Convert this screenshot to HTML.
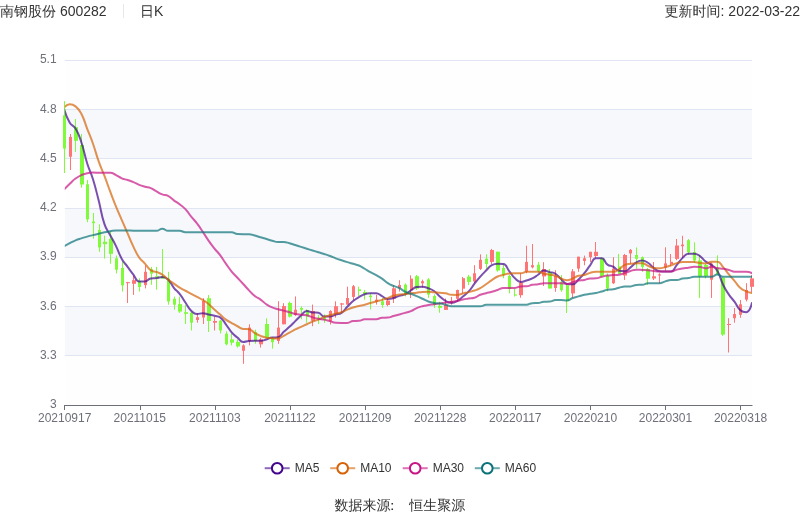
<!DOCTYPE html>
<html lang="zh"><head><meta charset="utf-8"><title>南钢股份 600282 日K</title>
<style>
html,body{margin:0;padding:0;background:#fff;}
body{width:800px;height:517px;overflow:hidden;position:relative;font-family:"Liberation Sans","WenQuanYi Zen Hei","Noto Sans CJK SC",sans-serif;}
svg{position:absolute;left:0;top:0;display:block}
svg text{font-family:"Liberation Sans","WenQuanYi Zen Hei","Noto Sans CJK SC",sans-serif;}
</style></head><body>
<svg width="800" height="517" viewBox="0 0 800 517">
<defs><clipPath id="plot"><rect x="64.8" y="50" width="687.2" height="360"/></clipPath></defs>

<text x="0" y="16.3" font-size="14" fill="#333">南钢股份 600282</text>
<rect x="123" y="4" width="1" height="14" fill="#e8e8e8"/>
<text x="140" y="16.3" font-size="14" fill="#333">日K</text>
<text x="800" y="16.3" font-size="14" fill="#333" text-anchor="end">更新时间: 2022-03-22</text>
<rect x="65" y="60" width="687" height="49" fill="rgba(250,250,250,0.2)"/>
<rect x="65" y="109" width="687" height="49" fill="rgba(210,219,238,0.2)"/>
<rect x="65" y="158" width="687" height="50" fill="rgba(250,250,250,0.2)"/>
<rect x="65" y="208" width="687" height="49" fill="rgba(210,219,238,0.2)"/>
<rect x="65" y="257" width="687" height="49" fill="rgba(250,250,250,0.2)"/>
<rect x="65" y="306" width="687" height="49" fill="rgba(210,219,238,0.2)"/>
<rect x="65" y="355" width="687" height="50" fill="rgba(250,250,250,0.2)"/>
<line x1="64.8" x2="752" y1="60.5" y2="60.5" stroke="#E0E6F1" stroke-width="1"/>
<text x="56.6" y="63" font-size="12" fill="#6E7079" text-anchor="end">5.1</text>
<line x1="64.8" x2="752" y1="109.5" y2="109.5" stroke="#E0E6F1" stroke-width="1"/>
<text x="56.6" y="113" font-size="12" fill="#6E7079" text-anchor="end">4.8</text>
<line x1="64.8" x2="752" y1="158.5" y2="158.5" stroke="#E0E6F1" stroke-width="1"/>
<text x="56.6" y="162" font-size="12" fill="#6E7079" text-anchor="end">4.5</text>
<line x1="64.8" x2="752" y1="208.5" y2="208.5" stroke="#E0E6F1" stroke-width="1"/>
<text x="56.6" y="211" font-size="12" fill="#6E7079" text-anchor="end">4.2</text>
<line x1="64.8" x2="752" y1="257.5" y2="257.5" stroke="#E0E6F1" stroke-width="1"/>
<text x="56.6" y="260" font-size="12" fill="#6E7079" text-anchor="end">3.9</text>
<line x1="64.8" x2="752" y1="306.5" y2="306.5" stroke="#E0E6F1" stroke-width="1"/>
<text x="56.6" y="310" font-size="12" fill="#6E7079" text-anchor="end">3.6</text>
<line x1="64.8" x2="752" y1="355.5" y2="355.5" stroke="#E0E6F1" stroke-width="1"/>
<text x="56.6" y="359" font-size="12" fill="#6E7079" text-anchor="end">3.3</text>
<text x="56.6" y="408" font-size="12" fill="#6E7079" text-anchor="end">3</text>
<g>
<line x1="64.5" x2="64.5" y1="101.2" y2="173.0" stroke="#80fb3c" stroke-width="1"/>
<rect x="63" y="115.3" width="3" height="33.3" fill="#80fb3c"/>
<line x1="70.5" x2="70.5" y1="134.0" y2="170.0" stroke="#ff7474" stroke-width="1"/>
<rect x="69" y="136.9" width="3" height="19.8" fill="#ff7474"/>
<line x1="75.5" x2="75.5" y1="119.0" y2="151.9" stroke="#80fb3c" stroke-width="1"/>
<rect x="74" y="127.2" width="4" height="13.6" fill="#80fb3c"/>
<line x1="81.5" x2="81.5" y1="134.0" y2="187.7" stroke="#80fb3c" stroke-width="1"/>
<rect x="80" y="145.0" width="4" height="39.5" fill="#80fb3c"/>
<line x1="87.5" x2="87.5" y1="180.0" y2="222.2" stroke="#80fb3c" stroke-width="1"/>
<rect x="86" y="184.2" width="3" height="35.2" fill="#80fb3c"/>
<line x1="93.5" x2="93.5" y1="213.0" y2="238.6" stroke="#80fb3c" stroke-width="1"/>
<rect x="92" y="221.5" width="3" height="1.7" fill="#80fb3c"/>
<line x1="99.5" x2="99.5" y1="224.3" y2="251.8" stroke="#80fb3c" stroke-width="1"/>
<rect x="98" y="230.0" width="3" height="17.4" fill="#80fb3c"/>
<line x1="104.5" x2="104.5" y1="235.7" y2="258.6" stroke="#80fb3c" stroke-width="1"/>
<rect x="103" y="241.7" width="4" height="2.5" fill="#80fb3c"/>
<line x1="110.5" x2="110.5" y1="231.2" y2="263.7" stroke="#80fb3c" stroke-width="1"/>
<rect x="109" y="238.8" width="4" height="15.1" fill="#80fb3c"/>
<line x1="116.5" x2="116.5" y1="255.5" y2="273.4" stroke="#80fb3c" stroke-width="1"/>
<rect x="115" y="258.3" width="3" height="11.4" fill="#80fb3c"/>
<line x1="122.5" x2="122.5" y1="261.6" y2="291.6" stroke="#80fb3c" stroke-width="1"/>
<rect x="121" y="268.0" width="3" height="17.4" fill="#80fb3c"/>
<line x1="127.5" x2="127.5" y1="281.9" y2="303.0" stroke="#ff7474" stroke-width="1"/>
<rect x="126" y="282.2" width="4" height="1.0" fill="#ff7474"/>
<line x1="133.5" x2="133.5" y1="275.7" y2="294.9" stroke="#ff7474" stroke-width="1"/>
<rect x="132" y="280.2" width="4" height="3.6" fill="#ff7474"/>
<line x1="139.5" x2="139.5" y1="278.3" y2="291.6" stroke="#80fb3c" stroke-width="1"/>
<rect x="138" y="281.0" width="3" height="6.0" fill="#80fb3c"/>
<line x1="145.5" x2="145.5" y1="265.3" y2="288.4" stroke="#ff7474" stroke-width="1"/>
<rect x="144" y="271.8" width="3" height="13.3" fill="#ff7474"/>
<line x1="151.5" x2="151.5" y1="266.9" y2="284.8" stroke="#80fb3c" stroke-width="1"/>
<rect x="150" y="269.2" width="3" height="4.5" fill="#80fb3c"/>
<line x1="156.5" x2="156.5" y1="266.9" y2="289.7" stroke="#80fb3c" stroke-width="1"/>
<rect x="155" y="276.2" width="4" height="1.6" fill="#80fb3c"/>
<line x1="162.5" x2="162.5" y1="249.0" y2="278.6" stroke="#80fb3c" stroke-width="1"/>
<rect x="161" y="276.2" width="4" height="2.4" fill="#80fb3c"/>
<line x1="168.5" x2="168.5" y1="271.8" y2="304.7" stroke="#80fb3c" stroke-width="1"/>
<rect x="167" y="278.6" width="3" height="22.9" fill="#80fb3c"/>
<line x1="174.5" x2="174.5" y1="296.6" y2="309.7" stroke="#80fb3c" stroke-width="1"/>
<rect x="173" y="298.8" width="3" height="5.9" fill="#80fb3c"/>
<line x1="179.5" x2="179.5" y1="296.6" y2="312.9" stroke="#80fb3c" stroke-width="1"/>
<rect x="178" y="304.1" width="4" height="7.5" fill="#80fb3c"/>
<line x1="185.5" x2="185.5" y1="304.8" y2="324.0" stroke="#80fb3c" stroke-width="1"/>
<rect x="184" y="312.2" width="4" height="1.6" fill="#80fb3c"/>
<line x1="191.5" x2="191.5" y1="311.8" y2="330.5" stroke="#80fb3c" stroke-width="1"/>
<rect x="190" y="312.8" width="3" height="9.9" fill="#80fb3c"/>
<line x1="197.5" x2="197.5" y1="313.2" y2="322.7" stroke="#ff7474" stroke-width="1"/>
<rect x="196" y="317.2" width="3" height="2.8" fill="#ff7474"/>
<line x1="203.5" x2="203.5" y1="298.2" y2="324.0" stroke="#ff7474" stroke-width="1"/>
<rect x="202" y="301.0" width="3" height="16.5" fill="#ff7474"/>
<line x1="208.5" x2="208.5" y1="295.0" y2="332.0" stroke="#80fb3c" stroke-width="1"/>
<rect x="207" y="298.2" width="4" height="22.8" fill="#80fb3c"/>
<line x1="214.5" x2="214.5" y1="316.7" y2="330.5" stroke="#ff7474" stroke-width="1"/>
<rect x="213" y="321.0" width="4" height="1.7" fill="#ff7474"/>
<line x1="220.5" x2="220.5" y1="320.0" y2="333.4" stroke="#80fb3c" stroke-width="1"/>
<rect x="219" y="320.7" width="3" height="9.8" fill="#80fb3c"/>
<line x1="226.5" x2="226.5" y1="331.3" y2="345.4" stroke="#80fb3c" stroke-width="1"/>
<rect x="225" y="333.7" width="3" height="10.6" fill="#80fb3c"/>
<line x1="231.5" x2="231.5" y1="333.4" y2="345.4" stroke="#80fb3c" stroke-width="1"/>
<rect x="230" y="339.4" width="4" height="3.3" fill="#80fb3c"/>
<line x1="237.5" x2="237.5" y1="339.4" y2="347.6" stroke="#80fb3c" stroke-width="1"/>
<rect x="236" y="341.9" width="4" height="4.5" fill="#80fb3c"/>
<line x1="243.5" x2="243.5" y1="344.3" y2="363.8" stroke="#ff7474" stroke-width="1"/>
<rect x="242" y="345.4" width="3" height="5.4" fill="#ff7474"/>
<line x1="249.5" x2="249.5" y1="324.3" y2="345.4" stroke="#ff7474" stroke-width="1"/>
<rect x="248" y="327.6" width="3" height="13.4" fill="#ff7474"/>
<line x1="255.5" x2="255.5" y1="329.7" y2="343.8" stroke="#80fb3c" stroke-width="1"/>
<rect x="254" y="332.0" width="3" height="9.0" fill="#80fb3c"/>
<line x1="260.5" x2="260.5" y1="337.8" y2="347.6" stroke="#ff7474" stroke-width="1"/>
<rect x="259" y="339.4" width="4" height="4.9" fill="#ff7474"/>
<line x1="266.5" x2="266.5" y1="318.3" y2="337.8" stroke="#80fb3c" stroke-width="1"/>
<rect x="265" y="324.0" width="4" height="13.8" fill="#80fb3c"/>
<line x1="272.5" x2="272.5" y1="337.0" y2="348.7" stroke="#80fb3c" stroke-width="1"/>
<rect x="271" y="338.3" width="3" height="3.9" fill="#80fb3c"/>
<line x1="278.5" x2="278.5" y1="301.2" y2="343.8" stroke="#ff7474" stroke-width="1"/>
<rect x="277" y="327.6" width="3" height="13.4" fill="#ff7474"/>
<line x1="283.5" x2="283.5" y1="303.2" y2="324.3" stroke="#ff7474" stroke-width="1"/>
<rect x="282" y="306.1" width="4" height="18.2" fill="#ff7474"/>
<line x1="289.5" x2="289.5" y1="301.6" y2="317.5" stroke="#80fb3c" stroke-width="1"/>
<rect x="288" y="302.9" width="4" height="13.8" fill="#80fb3c"/>
<line x1="295.5" x2="295.5" y1="296.4" y2="315.9" stroke="#ff7474" stroke-width="1"/>
<rect x="294" y="309.7" width="3" height="5.3" fill="#ff7474"/>
<line x1="301.5" x2="301.5" y1="306.3" y2="319.3" stroke="#80fb3c" stroke-width="1"/>
<rect x="300" y="308.0" width="3" height="1.8" fill="#80fb3c"/>
<line x1="306.5" x2="306.5" y1="309.2" y2="322.8" stroke="#80fb3c" stroke-width="1"/>
<rect x="306" y="310.0" width="3" height="6.7" fill="#80fb3c"/>
<line x1="312.5" x2="312.5" y1="304.6" y2="326.2" stroke="#ff7474" stroke-width="1"/>
<rect x="311" y="311.0" width="4" height="9.8" fill="#ff7474"/>
<line x1="318.5" x2="318.5" y1="314.8" y2="324.0" stroke="#80fb3c" stroke-width="1"/>
<rect x="317" y="317.6" width="3" height="1.6" fill="#80fb3c"/>
<line x1="324.5" x2="324.5" y1="314.3" y2="322.9" stroke="#80fb3c" stroke-width="1"/>
<rect x="323" y="317.6" width="3" height="2.4" fill="#80fb3c"/>
<line x1="330.5" x2="330.5" y1="310.2" y2="324.5" stroke="#ff7474" stroke-width="1"/>
<rect x="329" y="311.0" width="3" height="10.3" fill="#ff7474"/>
<line x1="335.5" x2="335.5" y1="301.3" y2="317.6" stroke="#ff7474" stroke-width="1"/>
<rect x="334" y="306.2" width="4" height="8.1" fill="#ff7474"/>
<line x1="341.5" x2="341.5" y1="302.9" y2="312.7" stroke="#ff7474" stroke-width="1"/>
<rect x="340" y="303.4" width="4" height="1.2" fill="#ff7474"/>
<line x1="347.5" x2="347.5" y1="286.7" y2="304.6" stroke="#ff7474" stroke-width="1"/>
<rect x="346" y="298.0" width="3" height="6.6" fill="#ff7474"/>
<line x1="353.5" x2="353.5" y1="285.0" y2="300.2" stroke="#ff7474" stroke-width="1"/>
<rect x="352" y="286.2" width="3" height="10.7" fill="#ff7474"/>
<line x1="358.5" x2="358.5" y1="286.7" y2="296.0" stroke="#80fb3c" stroke-width="1"/>
<rect x="358" y="289.4" width="3" height="1.6" fill="#80fb3c"/>
<line x1="364.5" x2="364.5" y1="290.0" y2="299.7" stroke="#80fb3c" stroke-width="1"/>
<rect x="363" y="292.0" width="4" height="2.0" fill="#80fb3c"/>
<line x1="370.5" x2="370.5" y1="293.2" y2="309.4" stroke="#80fb3c" stroke-width="1"/>
<rect x="369" y="295.6" width="3" height="1.6" fill="#80fb3c"/>
<line x1="376.5" x2="376.5" y1="294.8" y2="304.6" stroke="#ff7474" stroke-width="1"/>
<rect x="375" y="299.7" width="3" height="2.1" fill="#ff7474"/>
<line x1="382.5" x2="382.5" y1="298.0" y2="307.8" stroke="#80fb3c" stroke-width="1"/>
<rect x="381" y="301.3" width="3" height="3.7" fill="#80fb3c"/>
<line x1="387.5" x2="387.5" y1="298.0" y2="306.2" stroke="#ff7474" stroke-width="1"/>
<rect x="386" y="300.5" width="4" height="4.5" fill="#ff7474"/>
<line x1="393.5" x2="393.5" y1="285.0" y2="303.0" stroke="#ff7474" stroke-width="1"/>
<rect x="392" y="288.3" width="4" height="10.2" fill="#ff7474"/>
<line x1="399.5" x2="399.5" y1="280.2" y2="291.6" stroke="#ff7474" stroke-width="1"/>
<rect x="398" y="285.0" width="3" height="3.3" fill="#ff7474"/>
<line x1="405.5" x2="405.5" y1="283.4" y2="296.4" stroke="#80fb3c" stroke-width="1"/>
<rect x="404" y="284.6" width="3" height="9.4" fill="#80fb3c"/>
<line x1="410.5" x2="410.5" y1="275.3" y2="298.0" stroke="#ff7474" stroke-width="1"/>
<rect x="410" y="278.6" width="3" height="11.4" fill="#ff7474"/>
<line x1="416.5" x2="416.5" y1="275.0" y2="290.0" stroke="#80fb3c" stroke-width="1"/>
<rect x="415" y="276.2" width="4" height="12.4" fill="#80fb3c"/>
<line x1="422.5" x2="422.5" y1="279.7" y2="287.7" stroke="#ff7474" stroke-width="1"/>
<rect x="421" y="281.2" width="3" height="2.1" fill="#ff7474"/>
<line x1="428.5" x2="428.5" y1="278.1" y2="297.8" stroke="#80fb3c" stroke-width="1"/>
<rect x="427" y="279.4" width="3" height="15.2" fill="#80fb3c"/>
<line x1="434.5" x2="434.5" y1="294.4" y2="307.9" stroke="#80fb3c" stroke-width="1"/>
<rect x="433" y="296.0" width="3" height="9.0" fill="#80fb3c"/>
<line x1="439.5" x2="439.5" y1="301.7" y2="312.8" stroke="#80fb3c" stroke-width="1"/>
<rect x="438" y="305.8" width="4" height="2.1" fill="#80fb3c"/>
<line x1="445.5" x2="445.5" y1="298.5" y2="309.9" stroke="#ff7474" stroke-width="1"/>
<rect x="444" y="305.0" width="4" height="4.9" fill="#ff7474"/>
<line x1="451.5" x2="451.5" y1="296.9" y2="304.7" stroke="#ff7474" stroke-width="1"/>
<rect x="450" y="301.0" width="3" height="2.4" fill="#ff7474"/>
<line x1="457.5" x2="457.5" y1="289.6" y2="301.7" stroke="#ff7474" stroke-width="1"/>
<rect x="456" y="290.0" width="3" height="8.8" fill="#ff7474"/>
<line x1="462.5" x2="462.5" y1="277.0" y2="293.3" stroke="#ff7474" stroke-width="1"/>
<rect x="462" y="278.2" width="3" height="10.5" fill="#ff7474"/>
<line x1="468.5" x2="468.5" y1="274.9" y2="285.2" stroke="#80fb3c" stroke-width="1"/>
<rect x="467" y="276.6" width="4" height="5.3" fill="#80fb3c"/>
<line x1="474.5" x2="474.5" y1="265.2" y2="283.0" stroke="#ff7474" stroke-width="1"/>
<rect x="473" y="273.3" width="3" height="8.1" fill="#ff7474"/>
<line x1="480.5" x2="480.5" y1="254.3" y2="270.0" stroke="#ff7474" stroke-width="1"/>
<rect x="479" y="259.8" width="3" height="9.1" fill="#ff7474"/>
<line x1="486.5" x2="486.5" y1="254.3" y2="268.9" stroke="#80fb3c" stroke-width="1"/>
<rect x="485" y="258.7" width="3" height="5.3" fill="#80fb3c"/>
<line x1="491.5" x2="491.5" y1="248.9" y2="264.0" stroke="#ff7474" stroke-width="1"/>
<rect x="490" y="250.0" width="4" height="11.9" fill="#ff7474"/>
<line x1="497.5" x2="497.5" y1="251.7" y2="271.7" stroke="#80fb3c" stroke-width="1"/>
<rect x="496" y="251.7" width="4" height="18.8" fill="#80fb3c"/>
<line x1="503.5" x2="503.5" y1="264.4" y2="278.2" stroke="#80fb3c" stroke-width="1"/>
<rect x="502" y="268.0" width="3" height="6.9" fill="#80fb3c"/>
<line x1="509.5" x2="509.5" y1="274.9" y2="293.3" stroke="#80fb3c" stroke-width="1"/>
<rect x="508" y="276.0" width="3" height="13.0" fill="#80fb3c"/>
<line x1="514.5" x2="514.5" y1="288.7" y2="296.5" stroke="#80fb3c" stroke-width="1"/>
<rect x="514" y="294.4" width="3" height="1.2" fill="#80fb3c"/>
<line x1="520.5" x2="520.5" y1="273.3" y2="297.7" stroke="#ff7474" stroke-width="1"/>
<rect x="519" y="282.6" width="4" height="12.6" fill="#ff7474"/>
<line x1="526.5" x2="526.5" y1="245.7" y2="273.3" stroke="#ff7474" stroke-width="1"/>
<rect x="525" y="261.9" width="3" height="9.8" fill="#ff7474"/>
<line x1="532.5" x2="532.5" y1="244.0" y2="268.4" stroke="#ff7474" stroke-width="1"/>
<rect x="531" y="265.2" width="3" height="2.1" fill="#ff7474"/>
<line x1="538.5" x2="538.5" y1="261.9" y2="272.5" stroke="#80fb3c" stroke-width="1"/>
<rect x="537" y="264.7" width="3" height="6.5" fill="#80fb3c"/>
<line x1="543.5" x2="543.5" y1="262.2" y2="286.0" stroke="#ff7474" stroke-width="1"/>
<rect x="542" y="269.0" width="4" height="7.4" fill="#ff7474"/>
<line x1="549.5" x2="549.5" y1="269.0" y2="288.5" stroke="#80fb3c" stroke-width="1"/>
<rect x="548" y="272.3" width="4" height="16.2" fill="#80fb3c"/>
<line x1="555.5" x2="555.5" y1="270.2" y2="291.8" stroke="#ff7474" stroke-width="1"/>
<rect x="554" y="275.9" width="3" height="12.1" fill="#ff7474"/>
<line x1="561.5" x2="561.5" y1="275.0" y2="291.8" stroke="#80fb3c" stroke-width="1"/>
<rect x="560" y="282.4" width="3" height="7.8" fill="#80fb3c"/>
<line x1="566.5" x2="566.5" y1="284.0" y2="313.0" stroke="#80fb3c" stroke-width="1"/>
<rect x="566" y="285.3" width="3" height="15.7" fill="#80fb3c"/>
<line x1="572.5" x2="572.5" y1="269.0" y2="297.8" stroke="#ff7474" stroke-width="1"/>
<rect x="571" y="271.3" width="4" height="22.1" fill="#ff7474"/>
<line x1="578.5" x2="578.5" y1="256.7" y2="271.8" stroke="#ff7474" stroke-width="1"/>
<rect x="577" y="256.7" width="3" height="11.9" fill="#ff7474"/>
<line x1="584.5" x2="584.5" y1="255.6" y2="265.3" stroke="#ff7474" stroke-width="1"/>
<rect x="583" y="258.3" width="3" height="2.6" fill="#ff7474"/>
<line x1="590.5" x2="590.5" y1="251.8" y2="262.0" stroke="#ff7474" stroke-width="1"/>
<rect x="589" y="251.8" width="3" height="5.4" fill="#ff7474"/>
<line x1="595.5" x2="595.5" y1="242.0" y2="258.0" stroke="#ff7474" stroke-width="1"/>
<rect x="594" y="251.8" width="4" height="4.2" fill="#ff7474"/>
<line x1="601.5" x2="601.5" y1="257.2" y2="277.5" stroke="#80fb3c" stroke-width="1"/>
<rect x="600" y="258.3" width="4" height="17.9" fill="#80fb3c"/>
<line x1="607.5" x2="607.5" y1="273.4" y2="291.3" stroke="#80fb3c" stroke-width="1"/>
<rect x="606" y="275.5" width="3" height="13.0" fill="#80fb3c"/>
<line x1="613.5" x2="613.5" y1="257.2" y2="284.0" stroke="#ff7474" stroke-width="1"/>
<rect x="612" y="268.6" width="3" height="14.6" fill="#ff7474"/>
<line x1="618.5" x2="618.5" y1="253.9" y2="273.9" stroke="#80fb3c" stroke-width="1"/>
<rect x="618" y="266.4" width="3" height="7.5" fill="#80fb3c"/>
<line x1="624.5" x2="624.5" y1="253.9" y2="279.9" stroke="#ff7474" stroke-width="1"/>
<rect x="623" y="255.0" width="4" height="20.5" fill="#ff7474"/>
<line x1="630.5" x2="630.5" y1="249.0" y2="263.7" stroke="#ff7474" stroke-width="1"/>
<rect x="629" y="249.9" width="3" height="3.5" fill="#ff7474"/>
<line x1="636.5" x2="636.5" y1="247.4" y2="268.6" stroke="#80fb3c" stroke-width="1"/>
<rect x="635" y="255.0" width="3" height="3.8" fill="#80fb3c"/>
<line x1="642.5" x2="642.5" y1="256.4" y2="271.8" stroke="#80fb3c" stroke-width="1"/>
<rect x="641" y="257.2" width="3" height="9.7" fill="#80fb3c"/>
<line x1="647.5" x2="647.5" y1="267.9" y2="284.9" stroke="#80fb3c" stroke-width="1"/>
<rect x="646" y="269.0" width="4" height="9.7" fill="#80fb3c"/>
<line x1="653.5" x2="653.5" y1="262.0" y2="280.0" stroke="#ff7474" stroke-width="1"/>
<rect x="652" y="276.3" width="4" height="2.2" fill="#ff7474"/>
<line x1="659.5" x2="659.5" y1="273.3" y2="283.2" stroke="#ff7474" stroke-width="1"/>
<rect x="658" y="274.4" width="3" height="1.1" fill="#ff7474"/>
<line x1="665.5" x2="665.5" y1="247.3" y2="270.8" stroke="#ff7474" stroke-width="1"/>
<rect x="664" y="263.4" width="3" height="4.2" fill="#ff7474"/>
<line x1="670.5" x2="670.5" y1="254.0" y2="266.2" stroke="#ff7474" stroke-width="1"/>
<rect x="670" y="261.8" width="3" height="2.3" fill="#ff7474"/>
<line x1="676.5" x2="676.5" y1="239.0" y2="260.2" stroke="#ff7474" stroke-width="1"/>
<rect x="675" y="245.5" width="4" height="13.4" fill="#ff7474"/>
<line x1="682.5" x2="682.5" y1="235.8" y2="258.0" stroke="#ff7474" stroke-width="1"/>
<rect x="681" y="244.6" width="3" height="1.6" fill="#ff7474"/>
<line x1="688.5" x2="688.5" y1="239.0" y2="254.8" stroke="#80fb3c" stroke-width="1"/>
<rect x="687" y="240.2" width="3" height="12.2" fill="#80fb3c"/>
<line x1="694.5" x2="694.5" y1="242.3" y2="263.0" stroke="#80fb3c" stroke-width="1"/>
<rect x="693" y="252.0" width="3" height="8.5" fill="#80fb3c"/>
<line x1="699.5" x2="699.5" y1="254.8" y2="297.9" stroke="#80fb3c" stroke-width="1"/>
<rect x="698" y="260.4" width="4" height="16.0" fill="#80fb3c"/>
<line x1="705.5" x2="705.5" y1="264.0" y2="278.4" stroke="#80fb3c" stroke-width="1"/>
<rect x="704" y="265.0" width="4" height="11.0" fill="#80fb3c"/>
<line x1="711.5" x2="711.5" y1="262.4" y2="297.9" stroke="#ff7474" stroke-width="1"/>
<rect x="710" y="263.6" width="3" height="16.1" fill="#ff7474"/>
<line x1="717.5" x2="717.5" y1="255.3" y2="274.8" stroke="#80fb3c" stroke-width="1"/>
<rect x="716" y="268.0" width="3" height="6.4" fill="#80fb3c"/>
<line x1="722.5" x2="722.5" y1="276.9" y2="335.9" stroke="#80fb3c" stroke-width="1"/>
<rect x="721" y="277.8" width="4" height="56.8" fill="#80fb3c"/>
<line x1="728.5" x2="728.5" y1="318.2" y2="352.5" stroke="#ff7474" stroke-width="1"/>
<rect x="727" y="324.0" width="4" height="1.0" fill="#ff7474"/>
<line x1="734.5" x2="734.5" y1="308.0" y2="322.7" stroke="#ff7474" stroke-width="1"/>
<rect x="733" y="314.0" width="3" height="4.2" fill="#ff7474"/>
<line x1="740.5" x2="740.5" y1="300.0" y2="317.8" stroke="#ff7474" stroke-width="1"/>
<rect x="739" y="304.3" width="3" height="10.5" fill="#ff7474"/>
<line x1="746.5" x2="746.5" y1="283.2" y2="301.4" stroke="#ff7474" stroke-width="1"/>
<rect x="745" y="290.0" width="3" height="9.6" fill="#ff7474"/>
<line x1="751.5" x2="751.5" y1="275.1" y2="292.2" stroke="#ff7474" stroke-width="1"/>
<rect x="750" y="278.4" width="4" height="8.4" fill="#ff7474"/>
</g><g clip-path="url(#plot)">
<path d="M64.20,109.60C64.20,109.60 66.19,116.65 69.78,122.64C71.87,126.13 73.50,125.04 75.56,128.55C79.28,134.85 79.00,135.21 81.34,142.25C84.78,152.54 83.86,152.85 87.13,163.22C89.64,171.22 90.43,170.97 92.91,178.98C96.21,189.64 95.91,189.75 98.69,200.57C101.70,212.31 100.67,212.68 104.47,224.10C106.45,230.06 107.31,229.74 110.25,235.33C113.09,240.74 113.35,240.61 116.03,246.09C119.13,252.40 118.41,252.80 121.82,258.91C124.19,263.18 124.68,262.90 127.60,266.86C130.46,270.73 130.39,270.78 133.38,274.56C136.18,278.11 135.63,281.50 139.16,281.50C141.42,281.50 142.22,281.50 144.94,281.50C148.01,281.50 147.66,278.88 150.72,278.48C153.44,278.13 153.64,278.48 156.50,278.13C159.42,277.77 159.49,277.03 162.29,277.03C165.27,277.03 165.85,277.44 168.07,279.50C171.63,282.80 170.70,283.84 173.85,287.76C176.48,291.04 177.03,290.59 179.63,293.90C182.81,297.94 182.48,298.20 185.41,302.46C188.27,306.61 187.72,307.22 191.19,310.71C193.50,313.02 193.89,314.07 196.97,314.07C199.67,314.07 199.89,313.14 202.76,313.14C205.67,313.14 205.64,313.84 208.54,314.50C211.42,315.15 211.45,315.05 214.32,315.76C217.23,316.48 217.79,315.76 220.10,317.36C223.57,319.76 223.14,320.70 225.88,324.27C228.92,328.23 228.41,328.67 231.66,332.42C234.19,335.33 234.47,335.10 237.45,337.58C240.25,339.92 240.03,342.07 243.23,342.07C245.81,342.07 246.09,341.07 249.01,340.88C251.87,340.70 251.90,340.70 254.79,340.70C257.68,340.70 257.71,340.70 260.57,340.70C263.49,340.70 263.52,340.32 266.35,339.52C269.30,338.70 269.16,337.65 272.13,337.47C274.94,337.30 275.49,337.47 277.92,337.30C281.27,337.06 280.74,334.48 283.70,331.81C286.52,329.26 286.68,329.44 289.48,326.86C292.46,324.11 292.37,324.01 295.26,321.16C298.15,318.30 298.00,318.13 301.04,315.44C303.78,313.02 303.64,310.93 306.82,310.93C309.43,310.93 309.66,312.36 312.61,312.54C315.44,312.70 315.77,312.54 318.39,312.70C321.55,312.90 321.01,316.61 324.17,316.61C326.79,316.61 327.14,316.61 329.95,316.46C332.92,316.30 332.82,315.39 335.73,314.47C338.60,313.57 339.09,314.42 341.51,312.81C344.88,310.56 344.36,309.75 347.29,306.76C350.15,303.85 349.95,303.60 353.08,301.02C355.73,298.81 355.87,298.92 358.86,297.18C361.65,295.55 361.61,295.30 364.64,294.28C367.39,293.35 367.51,293.36 370.42,293.28C373.29,293.20 373.47,293.20 376.20,293.20C379.26,293.20 379.08,294.67 381.98,296.11C384.87,297.55 384.73,298.95 387.76,298.95C390.52,298.95 390.74,298.84 393.55,298.08C396.52,297.28 396.38,296.77 399.33,295.84C402.16,294.94 402.45,295.65 405.11,294.41C408.24,292.95 407.94,292.33 410.89,290.44C413.72,288.63 413.57,287.36 416.67,287.01C419.35,286.70 419.61,286.70 422.45,286.70C425.39,286.70 425.44,287.20 428.24,288.23C431.22,289.34 431.44,289.14 434.02,290.96C437.22,293.23 436.79,293.82 439.80,296.41C442.58,298.80 442.42,299.16 445.58,300.93C448.20,302.39 448.46,302.87 451.36,302.87C454.24,302.87 454.54,302.54 457.14,301.10C460.32,299.34 460.09,298.86 462.92,296.49C465.87,294.02 466.14,294.26 468.71,291.43C471.93,287.88 471.52,287.51 474.49,283.71C477.30,280.11 477.26,280.07 480.27,276.64C483.04,273.50 483.08,273.52 486.05,270.57C488.86,267.77 488.53,267.03 491.83,265.14C494.31,263.71 494.68,263.71 497.61,263.71C500.46,263.71 501.15,263.71 503.39,263.97C506.93,264.38 506.32,267.47 509.18,271.02C512.10,274.64 511.62,275.17 514.96,278.32C517.40,280.63 517.65,281.94 520.74,281.94C523.44,281.94 523.68,281.36 526.52,280.49C529.46,279.58 529.56,279.74 532.30,278.38C535.35,276.87 535.25,276.65 538.08,274.74C541.03,272.75 540.72,270.59 543.87,270.59C546.50,270.59 546.76,271.31 549.65,272.10C552.55,272.89 552.95,272.20 555.43,273.74C558.73,275.80 558.20,276.65 561.21,279.29C563.99,281.73 563.75,283.41 566.99,283.91C569.53,284.30 570.25,284.30 572.77,284.30C576.03,284.30 575.87,282.16 578.55,279.59C581.65,276.63 581.64,276.57 584.34,273.23C587.42,269.43 587.12,269.19 590.12,265.31C592.90,261.72 592.37,258.30 595.90,258.30C598.15,258.30 599.35,258.30 601.68,258.30C605.14,258.30 604.09,262.19 607.46,264.65C609.87,266.41 610.56,265.30 613.24,266.75C616.34,268.41 615.84,270.33 619.03,270.86C621.62,271.30 622.19,271.30 624.81,271.30C627.97,271.30 627.82,269.49 630.59,267.36C633.60,265.03 633.15,264.27 636.37,262.38C638.93,260.87 639.29,260.55 642.15,260.55C645.07,260.55 645.36,261.12 647.93,262.75C651.14,264.77 650.62,265.58 653.71,267.85C656.40,269.84 656.39,270.93 659.50,271.27C662.17,271.55 662.38,271.55 665.28,271.55C668.17,271.55 668.77,271.55 671.06,271.50C674.56,271.43 673.98,268.18 676.84,264.80C679.76,261.37 679.40,260.99 682.62,257.89C685.18,255.43 685.21,253.70 688.40,253.70C690.99,253.70 691.41,253.70 694.18,253.70C697.19,253.70 697.43,254.35 699.97,256.10C703.21,258.34 702.58,259.25 705.75,261.66C708.37,263.66 708.93,262.91 711.53,264.93C714.71,267.40 715.30,267.20 717.31,270.65C721.08,277.13 719.78,277.93 723.09,284.79C725.56,289.90 725.69,289.90 728.87,294.59C731.47,298.42 731.90,298.12 734.66,301.84C737.68,305.93 736.82,307.00 740.44,310.21C742.60,312.13 744.15,312.13 746.22,312.13C749.88,312.13 751.90,303.00 751.90,303.00" fill="none" stroke="#42058c" stroke-opacity="0.7" stroke-width="2" stroke-linejoin="round" stroke-linecap="round"/>
<path d="M64.20,107.20C64.20,107.20 66.91,104.34 69.78,104.34C72.59,104.34 73.27,104.52 75.56,106.38C79.06,109.22 79.21,109.63 81.34,113.74C84.99,120.75 84.23,121.18 87.13,128.62C90.02,136.06 90.25,135.97 92.91,143.49C96.04,152.36 95.54,152.54 98.69,161.40C101.32,168.78 101.68,168.65 104.47,175.97C107.46,183.80 107.30,183.86 110.25,191.71C113.08,199.21 113.01,199.24 116.03,206.66C118.79,213.42 118.91,213.38 121.82,220.08C124.69,226.70 124.71,226.69 127.60,233.31C130.49,239.94 130.26,240.05 133.38,246.57C136.04,252.14 135.73,252.42 139.16,257.49C141.51,260.95 142.10,260.52 144.94,263.64C147.88,266.87 147.31,267.71 150.72,270.18C153.09,271.91 153.67,270.97 156.50,272.05C159.45,273.16 159.66,272.87 162.29,274.55C165.44,276.57 165.09,277.11 168.07,279.45C170.87,281.64 170.94,281.55 173.85,283.60C176.72,285.63 176.64,285.76 179.63,287.61C182.42,289.33 182.51,289.19 185.41,290.75C188.29,292.29 188.31,292.26 191.19,293.79C194.09,295.32 194.08,295.33 196.97,296.87C199.87,298.41 199.98,298.23 202.76,299.95C205.76,301.80 205.82,301.77 208.54,304.02C211.61,306.56 211.37,306.84 214.32,309.53C217.15,312.12 217.21,312.05 220.10,314.57C222.99,317.10 222.79,317.38 225.88,319.63C228.57,321.60 228.76,321.35 231.66,323.01C234.54,324.66 234.50,324.75 237.45,326.26C240.28,327.71 240.20,328.63 243.23,328.93C245.98,329.21 246.38,328.93 249.01,329.21C252.16,329.54 251.79,331.31 254.79,333.04C257.57,334.65 257.59,334.70 260.57,335.89C263.37,337.00 263.40,337.10 266.35,337.65C269.19,338.17 269.24,337.94 272.13,338.17C275.02,338.40 275.17,338.57 277.92,338.57C280.95,338.57 280.85,337.31 283.70,335.85C286.64,334.35 286.59,334.27 289.48,332.67C292.38,331.06 292.29,330.89 295.26,329.43C298.08,328.03 298.17,328.24 301.04,326.95C303.95,325.64 303.93,325.58 306.82,324.23C309.71,322.89 309.66,322.76 312.61,321.57C315.44,320.43 315.55,320.71 318.39,319.57C321.33,318.39 321.20,318.06 324.17,316.95C326.98,315.90 327.05,316.08 329.95,315.25C332.84,314.42 332.82,314.38 335.73,313.63C338.61,312.90 338.72,313.25 341.51,312.29C344.50,311.26 344.36,310.86 347.29,309.64C350.14,308.46 350.13,308.40 353.08,307.49C355.91,306.61 355.96,306.77 358.86,306.08C361.74,305.39 361.77,305.48 364.64,304.73C367.55,303.97 367.53,303.89 370.42,303.07C373.31,302.25 373.31,302.25 376.20,301.44C379.09,300.63 379.10,300.67 381.98,299.84C384.88,299.01 384.92,299.12 387.76,298.13C390.70,297.11 390.58,296.73 393.55,295.83C396.36,294.97 396.41,295.06 399.33,294.61C402.19,294.17 402.22,294.37 405.11,294.04C408.01,293.71 407.99,293.61 410.89,293.28C413.78,292.96 413.79,293.09 416.67,292.75C419.57,292.40 419.55,292.06 422.45,291.88C425.33,291.71 425.35,291.71 428.24,291.71C431.13,291.71 431.13,291.99 434.02,292.25C436.91,292.51 436.91,292.51 439.80,292.76C442.69,293.01 442.73,292.76 445.58,293.25C448.51,293.75 448.42,294.65 451.36,294.77C454.20,294.90 454.30,294.90 457.14,294.90C460.08,294.90 460.03,294.16 462.92,293.46C465.81,292.76 465.83,292.84 468.71,292.11C471.61,291.38 471.66,291.52 474.49,290.54C477.44,289.52 477.53,289.61 480.27,288.13C483.31,286.48 483.19,286.25 486.05,284.28C488.98,282.26 488.89,282.13 491.83,280.14C494.67,278.22 494.52,277.84 497.61,276.47C500.31,275.27 500.51,275.74 503.39,274.99C506.29,274.23 506.24,273.59 509.18,273.44C512.02,273.30 512.07,273.30 514.96,273.30C517.85,273.30 517.89,273.30 520.74,273.30C523.67,273.30 523.59,272.02 526.52,271.86C529.37,271.70 529.41,271.70 532.30,271.70C535.19,271.70 535.27,271.70 538.08,271.70C541.06,271.70 540.92,272.93 543.87,273.70C546.70,274.44 546.76,274.19 549.65,274.71C552.54,275.24 552.66,274.88 555.43,275.79C558.44,276.78 558.24,277.36 561.21,278.51C564.02,279.59 564.10,280.26 566.99,280.26C569.88,280.26 569.96,279.58 572.77,278.49C575.74,277.34 575.53,276.55 578.55,275.76C581.31,275.05 581.53,275.76 584.34,275.05C587.31,274.30 587.15,273.66 590.12,272.84C592.93,272.07 592.99,271.94 595.90,271.87C598.77,271.80 598.79,271.80 601.68,271.80C604.57,271.80 604.57,271.80 607.46,271.80C610.35,271.80 610.48,271.80 613.24,271.80C616.26,271.80 616.34,270.88 619.03,269.28C622.12,267.43 621.61,266.25 624.81,264.89C627.40,263.78 627.67,264.10 630.59,263.78C633.46,263.48 633.48,263.62 636.37,263.48C639.26,263.34 639.38,263.22 642.15,263.22C645.16,263.22 645.02,264.53 647.93,265.73C650.80,266.91 650.72,267.74 653.71,267.98C656.50,268.20 656.63,268.20 659.50,268.20C662.41,268.20 662.43,267.82 665.28,267.11C668.21,266.39 668.20,266.33 671.06,265.34C673.98,264.33 673.88,264.00 676.84,263.12C679.66,262.28 679.70,261.91 682.62,261.91C685.48,261.91 685.51,261.91 688.40,261.93C691.29,261.96 691.32,261.93 694.18,262.08C697.10,262.24 697.05,262.84 699.97,263.11C702.84,263.38 702.91,263.38 705.75,263.38C708.69,263.38 708.59,262.03 711.53,261.83C714.37,261.63 714.88,261.63 717.31,261.63C720.67,261.63 720.41,264.20 723.09,267.15C726.19,270.56 725.93,270.79 728.87,274.34C731.71,277.76 731.78,277.71 734.66,281.09C737.56,284.51 737.13,285.02 740.44,287.95C742.91,290.14 743.18,289.97 746.22,291.33C748.91,292.54 751.90,293.10 751.90,293.10" fill="none" stroke="#d66205" stroke-opacity="0.7" stroke-width="2" stroke-linejoin="round" stroke-linecap="round"/>
<path d="M64.20,189.40C64.20,189.40 66.91,186.48 69.78,183.73C72.59,181.06 72.47,180.87 75.56,178.57C78.25,176.56 78.31,176.53 81.34,175.11C84.09,173.83 84.16,173.71 87.13,173.15C89.94,172.61 90.01,172.61 92.91,172.61C95.79,172.61 95.80,172.63 98.69,172.66C101.58,172.69 101.58,172.69 104.47,172.72C107.36,172.75 107.47,172.72 110.25,172.78C113.25,172.85 113.23,173.74 116.03,175.09C119.02,176.52 118.79,177.04 121.82,178.33C124.57,179.51 124.73,179.11 127.60,180.04C130.51,180.99 130.55,180.92 133.38,182.09C136.33,183.31 136.20,183.65 139.16,184.83C141.98,185.96 142.02,185.88 144.94,186.72C147.80,187.53 147.99,187.02 150.72,188.13C153.78,189.38 153.57,189.86 156.50,191.43C159.35,192.96 159.29,193.16 162.29,194.33C165.07,195.42 165.45,194.60 168.07,195.95C171.23,197.59 170.91,198.20 173.85,200.32C176.69,202.38 176.84,202.18 179.63,204.31C182.62,206.59 182.85,206.42 185.41,209.15C188.63,212.58 188.22,212.95 191.19,216.63C194.00,220.10 194.26,219.90 196.97,223.44C200.04,227.46 199.93,227.55 202.76,231.74C205.71,236.12 205.52,236.25 208.54,240.58C211.30,244.54 211.32,244.53 214.32,248.31C217.10,251.80 217.42,251.56 220.10,255.12C223.20,259.24 222.91,259.45 225.88,263.67C228.69,267.66 228.57,267.78 231.66,271.55C234.35,274.81 234.57,274.63 237.45,277.73C240.35,280.86 240.35,280.86 243.23,284.01C246.13,287.20 246.02,287.30 249.01,290.41C251.81,293.32 251.65,293.55 254.79,296.06C257.43,298.16 257.81,297.65 260.57,299.61C263.59,301.75 263.30,302.18 266.35,304.25C269.08,306.10 269.12,306.14 272.13,307.45C274.90,308.66 274.99,308.48 277.92,309.29C280.78,310.07 280.83,309.88 283.70,310.63C286.61,311.39 286.59,311.47 289.48,312.30C292.37,313.13 292.33,313.33 295.26,313.94C298.11,314.53 298.14,314.38 301.04,314.71C303.93,315.04 304.02,314.71 306.82,315.26C309.80,315.83 309.67,316.47 312.61,317.37C315.45,318.24 315.47,318.21 318.39,318.78C321.25,319.34 321.31,319.04 324.17,319.63C327.09,320.22 327.07,320.36 329.95,321.15C332.85,321.94 332.79,322.63 335.73,322.77C338.57,322.90 338.62,322.90 341.51,322.90C344.40,322.90 344.48,322.90 347.29,322.90C350.26,322.90 350.11,321.19 353.08,320.99C355.89,320.80 356.01,320.99 358.86,320.80C361.79,320.60 361.70,319.51 364.64,319.35C367.49,319.20 367.53,319.20 370.42,319.20C373.31,319.20 373.36,319.20 376.20,319.20C379.14,319.20 379.05,317.89 381.98,317.74C384.83,317.60 384.92,317.74 387.76,317.60C390.70,317.45 390.66,316.84 393.55,316.06C396.44,315.27 396.44,315.26 399.33,314.46C402.22,313.65 402.22,313.66 405.11,312.84C408.00,312.02 408.12,312.31 410.89,311.18C413.90,309.94 413.68,309.39 416.67,308.10C419.46,306.89 419.51,306.93 422.45,306.17C425.29,305.43 425.33,305.57 428.24,305.10C431.12,304.63 431.13,304.68 434.02,304.27C436.91,303.87 436.91,303.88 439.80,303.47C442.69,303.06 442.69,303.05 445.58,302.62C448.47,302.19 448.47,302.18 451.36,301.76C454.25,301.35 454.29,301.55 457.14,300.98C460.07,300.39 460.00,300.07 462.92,299.46C465.78,298.87 465.81,299.00 468.71,298.58C471.59,298.15 471.76,298.58 474.49,297.77C477.54,296.87 477.25,295.90 480.27,294.70C483.03,293.60 483.15,293.89 486.05,293.17C488.93,292.45 488.97,292.61 491.83,291.81C494.76,290.99 494.73,290.89 497.61,289.94C500.51,289.00 500.43,288.17 503.39,288.03C506.21,287.90 506.29,287.90 509.18,287.90C512.07,287.90 512.11,287.90 514.96,287.90C517.89,287.90 517.80,286.56 520.74,286.43C523.59,286.30 523.67,286.43 526.52,286.30C529.46,286.17 529.37,285.36 532.30,284.84C535.16,284.33 535.20,284.63 538.08,284.24C540.99,283.86 540.96,283.42 543.87,283.31C546.74,283.20 546.76,283.20 549.65,283.20C552.54,283.20 552.54,283.20 555.43,283.20C558.32,283.20 558.33,283.20 561.21,283.20C564.11,283.20 564.15,283.93 566.99,283.93C569.93,283.93 569.87,283.03 572.77,282.18C575.66,281.34 575.62,281.12 578.55,280.55C581.40,280.00 581.48,280.46 584.34,279.95C587.27,279.42 587.18,278.63 590.12,278.46C592.96,278.30 593.05,278.46 595.90,278.30C598.83,278.13 598.78,277.52 601.68,276.84C604.56,276.17 604.55,276.06 607.46,275.61C610.33,275.17 610.35,275.29 613.24,275.05C616.13,274.81 616.18,275.05 619.03,274.64C621.97,274.22 621.95,273.96 624.81,273.05C627.74,272.11 627.63,271.76 630.59,270.93C633.42,270.13 633.45,269.78 636.37,269.78C639.23,269.78 639.26,269.83 642.15,269.93C645.04,270.03 645.06,269.93 647.93,270.18C650.84,270.43 650.81,270.75 653.71,271.10C656.59,271.44 656.60,271.56 659.50,271.56C662.38,271.56 662.39,271.56 665.28,271.55C668.17,271.55 668.24,271.55 671.06,271.50C674.02,271.45 673.91,270.38 676.84,269.60C679.69,268.84 679.71,268.85 682.62,268.41C685.49,267.97 685.53,268.24 688.40,267.84C691.31,267.44 691.27,266.81 694.18,266.81C697.05,266.81 697.12,266.81 699.97,266.90C702.90,266.99 702.86,268.36 705.75,268.36C708.64,268.36 708.62,266.81 711.53,266.81C714.40,266.81 714.40,267.60 717.31,268.08C720.18,268.56 720.22,268.29 723.09,268.75C726.00,269.22 726.02,269.21 728.87,269.94C731.80,270.69 731.70,271.70 734.66,271.70C737.48,271.70 737.55,271.70 740.44,271.70C743.33,271.70 743.38,271.70 746.22,271.70C749.11,271.70 751.90,273.20 751.90,273.20" fill="none" stroke="#c71585" stroke-opacity="0.7" stroke-width="2" stroke-linejoin="round" stroke-linecap="round"/>
<path d="M64.20,246.20C64.20,246.20 66.95,244.59 69.78,243.13C72.64,241.65 72.60,241.53 75.56,240.31C78.38,239.15 78.44,239.27 81.34,238.35C84.22,237.44 84.23,237.47 87.13,236.65C90.01,235.84 90.01,235.85 92.91,235.10C95.79,234.36 95.80,234.38 98.69,233.68C101.58,232.98 101.56,232.91 104.47,232.29C107.35,231.68 107.35,231.67 110.25,231.22C113.13,230.78 113.13,230.50 116.03,230.50C118.91,230.50 118.92,230.52 121.82,230.54C124.71,230.56 124.71,230.56 127.60,230.58C130.49,230.60 130.49,230.60 133.38,230.63C136.27,230.65 136.27,230.65 139.16,230.67C142.05,230.69 142.05,230.69 144.94,230.71C147.83,230.73 147.83,230.73 150.72,230.75C153.61,230.77 153.70,230.79 156.50,230.79C159.48,230.79 159.40,228.75 162.29,228.75C165.18,228.75 165.09,230.80 168.07,230.80C170.87,230.80 170.96,230.80 173.85,230.80C176.74,230.80 176.78,230.80 179.63,230.80C182.56,230.80 182.48,232.14 185.41,232.22C188.26,232.30 188.30,232.30 191.19,232.30C194.08,232.30 194.08,232.30 196.97,232.30C199.87,232.30 199.87,232.30 202.76,232.30C205.65,232.30 205.65,232.30 208.54,232.30C211.43,232.30 211.43,232.30 214.32,232.30C217.21,232.30 217.21,232.30 220.10,232.30C222.99,232.30 222.99,232.30 225.88,232.30C228.77,232.30 228.84,232.30 231.66,232.30C234.62,232.30 234.49,234.03 237.45,234.12C240.27,234.20 240.34,234.20 243.23,234.20C246.12,234.20 246.15,234.20 249.01,234.20C251.93,234.20 251.93,234.72 254.79,235.49C257.71,236.27 257.67,236.42 260.57,237.30C263.45,238.18 263.46,238.15 266.35,239.00C269.24,239.84 269.22,239.92 272.13,240.67C275.00,241.42 274.99,242.00 277.92,242.00C280.77,242.00 280.84,242.00 283.70,242.00C286.62,242.00 286.63,242.47 289.48,243.22C292.41,244.00 292.37,244.14 295.26,245.05C298.15,245.96 298.15,245.96 301.04,246.87C303.93,247.79 303.93,247.79 306.82,248.70C309.71,249.60 309.71,249.60 312.61,250.48C315.49,251.37 315.50,251.35 318.39,252.23C321.28,253.10 321.30,253.04 324.17,253.97C327.08,254.91 327.09,254.88 329.95,255.96C332.87,257.06 332.81,257.22 335.73,258.32C338.59,259.39 338.61,259.35 341.51,260.30C344.39,261.26 344.39,261.26 347.29,262.14C350.17,263.01 350.18,262.98 353.08,263.81C355.97,264.65 356.11,264.30 358.86,265.47C361.89,266.77 361.76,267.09 364.64,268.75C367.54,270.43 367.49,270.53 370.42,272.16C373.27,273.74 373.37,273.56 376.20,275.16C379.15,276.83 379.19,276.79 381.98,278.70C384.97,280.74 384.71,281.16 387.76,283.07C390.49,284.78 390.59,284.65 393.55,285.94C396.37,287.16 396.58,286.73 399.33,288.09C402.36,289.60 402.07,290.18 405.11,291.68C407.86,293.04 408.02,292.68 410.89,293.79C413.80,294.93 413.80,294.94 416.67,296.18C419.58,297.43 419.57,297.44 422.45,298.76C425.35,300.07 425.25,300.37 428.24,301.44C431.03,302.44 431.09,302.40 434.02,302.89C436.87,303.37 436.95,302.89 439.80,303.37C442.73,303.85 442.68,304.12 445.58,304.83C448.46,305.54 448.43,306.09 451.36,306.20C454.21,306.30 454.25,306.30 457.14,306.30C460.03,306.30 460.03,306.30 462.92,306.30C465.82,306.30 465.82,306.30 468.71,306.30C471.60,306.30 471.60,306.30 474.49,306.30C477.38,306.30 477.42,306.30 480.27,306.30C483.20,306.30 483.12,305.01 486.05,304.85C488.90,304.70 488.94,304.70 491.83,304.70C494.72,304.70 494.72,304.70 497.61,304.70C500.50,304.70 500.50,304.70 503.39,304.70C506.29,304.70 506.29,304.70 509.18,304.70C512.07,304.70 512.07,304.70 514.96,304.70C517.85,304.70 517.85,304.70 520.74,304.70C523.63,304.70 523.68,304.70 526.52,304.70C529.46,304.70 529.36,303.30 532.30,303.15C535.14,303.00 535.23,303.15 538.08,303.00C541.01,302.85 540.94,301.90 543.87,301.75C546.72,301.60 546.80,301.75 549.65,301.60C552.59,301.44 552.49,300.24 555.43,300.07C558.27,299.90 558.33,299.90 561.21,299.90C564.11,299.90 564.21,300.54 566.99,300.54C570.00,300.54 569.82,299.12 572.77,298.05C575.60,297.03 575.66,297.18 578.55,296.35C581.44,295.53 581.41,295.39 584.34,294.76C587.19,294.13 587.22,294.27 590.12,293.83C593.01,293.38 593.04,293.56 595.90,292.97C598.82,292.37 598.79,292.22 601.68,291.44C604.58,290.66 604.53,290.41 607.46,289.85C610.31,289.31 610.39,289.76 613.24,289.25C616.17,288.72 616.12,288.45 619.03,287.76C621.90,287.08 621.88,286.61 624.81,286.50C627.66,286.40 627.74,286.50 630.59,286.40C633.52,286.29 633.43,285.05 636.37,284.92C639.22,284.80 639.30,284.92 642.15,284.80C645.09,284.67 645.00,283.52 647.93,283.36C650.78,283.20 650.82,283.20 653.71,283.20C656.60,283.20 656.67,283.20 659.50,283.20C662.45,283.20 662.35,282.17 665.28,281.38C668.14,280.62 668.13,280.19 671.06,280.09C673.91,280.00 673.99,280.09 676.84,280.00C679.77,279.90 679.69,279.06 682.62,278.56C685.48,278.07 685.54,278.48 688.40,278.03C691.32,277.58 691.26,276.87 694.18,276.75C697.04,276.63 697.08,276.63 699.97,276.63C702.86,276.63 702.86,276.65 705.75,276.66C708.64,276.68 708.73,276.69 711.53,276.69C714.51,276.69 714.42,274.58 717.31,274.58C720.20,274.58 720.11,276.60 723.09,276.70C725.89,276.80 725.98,276.80 728.87,276.80C731.76,276.80 731.76,276.80 734.66,276.80C737.55,276.80 737.55,276.80 740.44,276.80C743.33,276.80 743.33,276.80 746.22,276.80C749.06,276.80 751.90,276.80 751.90,276.80" fill="none" stroke="#0a7278" stroke-opacity="0.7" stroke-width="2" stroke-linejoin="round" stroke-linecap="round"/>
</g>
<line x1="64" x2="752.5" y1="405.5" y2="405.5" stroke="#6E7079" stroke-width="1"/>
<line x1="64.5" x2="64.5" y1="405" y2="410" stroke="#6E7079" stroke-width="1"/>
<text x="64.7" y="421.9" font-size="12" fill="#6E7079" text-anchor="middle">20210917</text>
<line x1="140.5" x2="140.5" y1="405" y2="410" stroke="#6E7079" stroke-width="1"/>
<text x="139.8" y="421.9" font-size="12" fill="#6E7079" text-anchor="middle">20211015</text>
<line x1="215.5" x2="215.5" y1="405" y2="410" stroke="#6E7079" stroke-width="1"/>
<text x="214.9" y="421.9" font-size="12" fill="#6E7079" text-anchor="middle">20211103</text>
<line x1="290.5" x2="290.5" y1="405" y2="410" stroke="#6E7079" stroke-width="1"/>
<text x="290.0" y="421.9" font-size="12" fill="#6E7079" text-anchor="middle">20211122</text>
<line x1="365.5" x2="365.5" y1="405" y2="410" stroke="#6E7079" stroke-width="1"/>
<text x="365.1" y="421.9" font-size="12" fill="#6E7079" text-anchor="middle">20211209</text>
<line x1="440.5" x2="440.5" y1="405" y2="410" stroke="#6E7079" stroke-width="1"/>
<text x="440.2" y="421.9" font-size="12" fill="#6E7079" text-anchor="middle">20211228</text>
<line x1="515.5" x2="515.5" y1="405" y2="410" stroke="#6E7079" stroke-width="1"/>
<text x="515.3" y="421.9" font-size="12" fill="#6E7079" text-anchor="middle">20220117</text>
<line x1="590.5" x2="590.5" y1="405" y2="410" stroke="#6E7079" stroke-width="1"/>
<text x="590.4" y="421.9" font-size="12" fill="#6E7079" text-anchor="middle">20220210</text>
<line x1="665.5" x2="665.5" y1="405" y2="410" stroke="#6E7079" stroke-width="1"/>
<text x="665.5" y="421.9" font-size="12" fill="#6E7079" text-anchor="middle">20220301</text>
<line x1="740.5" x2="740.5" y1="405" y2="410" stroke="#6E7079" stroke-width="1"/>
<text x="740.6" y="421.9" font-size="12" fill="#6E7079" text-anchor="middle">20220318</text>
<line x1="264.7" x2="289.7" y1="468.2" y2="468.2" stroke="#42058c" stroke-width="2" stroke-opacity="0.6"/>
<circle cx="277.2" cy="468.2" r="5.3" fill="#fff" stroke="#42058c" stroke-width="2"/>
<text x="294.7" y="472.3" font-size="12" fill="#333">MA5</text>
<line x1="330.2" x2="355.2" y1="468.2" y2="468.2" stroke="#d66205" stroke-width="2" stroke-opacity="0.6"/>
<circle cx="342.7" cy="468.2" r="5.3" fill="#fff" stroke="#d66205" stroke-width="2"/>
<text x="360.2" y="472.3" font-size="12" fill="#333">MA10</text>
<line x1="402.7" x2="427.7" y1="468.2" y2="468.2" stroke="#c71585" stroke-width="2" stroke-opacity="0.6"/>
<circle cx="415.2" cy="468.2" r="5.3" fill="#fff" stroke="#c71585" stroke-width="2"/>
<text x="432.7" y="472.3" font-size="12" fill="#333">MA30</text>
<line x1="474.8" x2="499.8" y1="468.2" y2="468.2" stroke="#0a7278" stroke-width="2" stroke-opacity="0.6"/>
<circle cx="487.3" cy="468.2" r="5.3" fill="#fff" stroke="#0a7278" stroke-width="2"/>
<text x="504.8" y="472.3" font-size="12" fill="#333">MA60</text>
<text x="334.5" y="509.8" font-size="14" fill="#333">数据来源<tspan dx="-5.2">：</tspan><tspan dx="6.0"> 恒生聚源</tspan></text>
</svg></body></html>
